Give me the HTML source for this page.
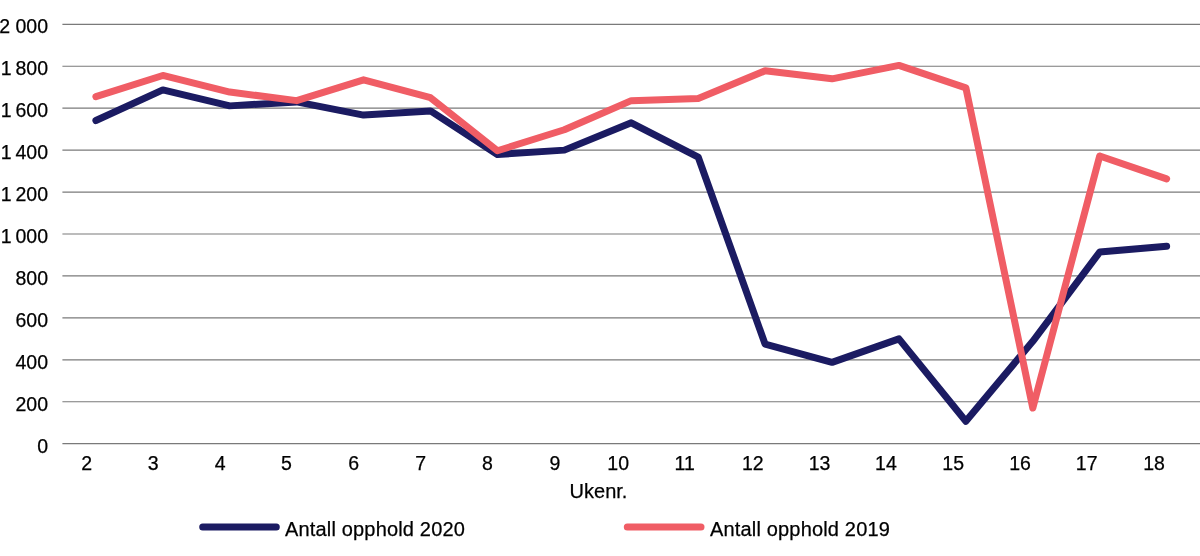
<!DOCTYPE html><html><head><meta charset="utf-8"><style>html,body{margin:0;padding:0;background:#fff;width:1200px;height:556px;overflow:hidden}svg{display:block;will-change:transform}text{font-family:"Liberation Sans",sans-serif;fill:#000;stroke:#000;stroke-width:0.25px}</style></head><body>
<svg width="1200" height="556" viewBox="0 0 1200 556">
<line x1="62.4" y1="443.70" x2="1200" y2="443.70" stroke="#7a7a7a" stroke-width="1.2"/>
<line x1="62.4" y1="401.76" x2="1200" y2="401.76" stroke="#7a7a7a" stroke-width="1.2"/>
<line x1="62.4" y1="359.82" x2="1200" y2="359.82" stroke="#7a7a7a" stroke-width="1.2"/>
<line x1="62.4" y1="317.88" x2="1200" y2="317.88" stroke="#7a7a7a" stroke-width="1.2"/>
<line x1="62.4" y1="275.94" x2="1200" y2="275.94" stroke="#7a7a7a" stroke-width="1.2"/>
<line x1="62.4" y1="234.00" x2="1200" y2="234.00" stroke="#7a7a7a" stroke-width="1.2"/>
<line x1="62.4" y1="192.06" x2="1200" y2="192.06" stroke="#7a7a7a" stroke-width="1.2"/>
<line x1="62.4" y1="150.12" x2="1200" y2="150.12" stroke="#7a7a7a" stroke-width="1.2"/>
<line x1="62.4" y1="108.18" x2="1200" y2="108.18" stroke="#7a7a7a" stroke-width="1.2"/>
<line x1="62.4" y1="66.24" x2="1200" y2="66.24" stroke="#7a7a7a" stroke-width="1.2"/>
<line x1="62.4" y1="24.30" x2="1200" y2="24.30" stroke="#7a7a7a" stroke-width="1.2"/>
<text x="48" y="452.50" font-size="19.5" text-anchor="end">0</text>
<text x="48" y="410.56" font-size="19.5" text-anchor="end">200</text>
<text x="48" y="368.62" font-size="19.5" text-anchor="end">400</text>
<text x="48" y="326.68" font-size="19.5" text-anchor="end">600</text>
<text x="48" y="284.74" font-size="19.5" text-anchor="end">800</text>
<text x="48" y="242.80" font-size="19.5" text-anchor="end">1<tspan dx="-1.5">&#160;000</tspan></text>
<text x="48" y="200.86" font-size="19.5" text-anchor="end">1<tspan dx="-1.5">&#160;200</tspan></text>
<text x="48" y="158.92" font-size="19.5" text-anchor="end">1<tspan dx="-1.5">&#160;400</tspan></text>
<text x="48" y="116.98" font-size="19.5" text-anchor="end">1<tspan dx="-1.5">&#160;600</tspan></text>
<text x="48" y="75.04" font-size="19.5" text-anchor="end">1<tspan dx="-1.5">&#160;800</tspan></text>
<text x="48" y="33.10" font-size="19.5" text-anchor="end">2&#160;000</text>
<text x="86.60" y="470.3" font-size="19.5" text-anchor="middle">2</text>
<text x="153.22" y="470.3" font-size="19.5" text-anchor="middle">3</text>
<text x="220.14" y="470.3" font-size="19.5" text-anchor="middle">4</text>
<text x="286.31" y="470.3" font-size="19.5" text-anchor="middle">5</text>
<text x="353.68" y="470.3" font-size="19.5" text-anchor="middle">6</text>
<text x="420.60" y="470.3" font-size="19.5" text-anchor="middle">7</text>
<text x="487.52" y="470.3" font-size="19.5" text-anchor="middle">8</text>
<text x="554.94" y="470.3" font-size="19.5" text-anchor="middle">9</text>
<text x="618.16" y="470.3" font-size="19.5" text-anchor="middle">10</text>
<text x="684.68" y="470.3" font-size="19.5" text-anchor="middle">11</text>
<text x="752.80" y="470.3" font-size="19.5" text-anchor="middle">12</text>
<text x="819.52" y="470.3" font-size="19.5" text-anchor="middle">13</text>
<text x="885.94" y="470.3" font-size="19.5" text-anchor="middle">14</text>
<text x="953.16" y="470.3" font-size="19.5" text-anchor="middle">15</text>
<text x="1020.08" y="470.3" font-size="19.5" text-anchor="middle">16</text>
<text x="1086.70" y="470.3" font-size="19.5" text-anchor="middle">17</text>
<text x="1154.02" y="470.3" font-size="19.5" text-anchor="middle">18</text>
<text x="598.5" y="498.1" font-size="20" text-anchor="middle">Ukenr.</text>
<polyline points="95.90,120.55 162.82,89.94 229.74,105.87 296.66,101.89 363.58,115.10 430.50,110.91 497.42,154.52 564.34,150.12 631.26,122.86 698.18,157.04 765.10,344.09 832.02,362.34 898.94,338.85 965.86,421.26 1032.78,341.37 1099.70,252.03 1166.62,246.16" fill="none" stroke="#1b1b62" stroke-width="7" stroke-linecap="round" stroke-linejoin="round"/>
<polyline points="95.90,96.65 162.82,75.47 229.74,92.03 296.66,100.63 363.58,79.87 430.50,97.69 497.42,150.75 564.34,129.78 631.26,100.63 698.18,98.53 765.10,70.85 832.02,78.82 898.94,65.40 965.86,87.84 1032.78,408.05 1099.70,155.99 1166.62,178.85" fill="none" stroke="#f05d65" stroke-width="7" stroke-linecap="round" stroke-linejoin="round"/>
<line x1="202.7" y1="527" x2="276.3" y2="527" stroke="#1b1b62" stroke-width="7" stroke-linecap="round"/>
<text x="285" y="536" font-size="20" letter-spacing="0.17">Antall opphold 2020</text>
<line x1="627.3" y1="527" x2="701" y2="527" stroke="#f05d65" stroke-width="7" stroke-linecap="round"/>
<text x="710" y="536" font-size="20" letter-spacing="0.17">Antall opphold 2019</text>
</svg></body></html>
